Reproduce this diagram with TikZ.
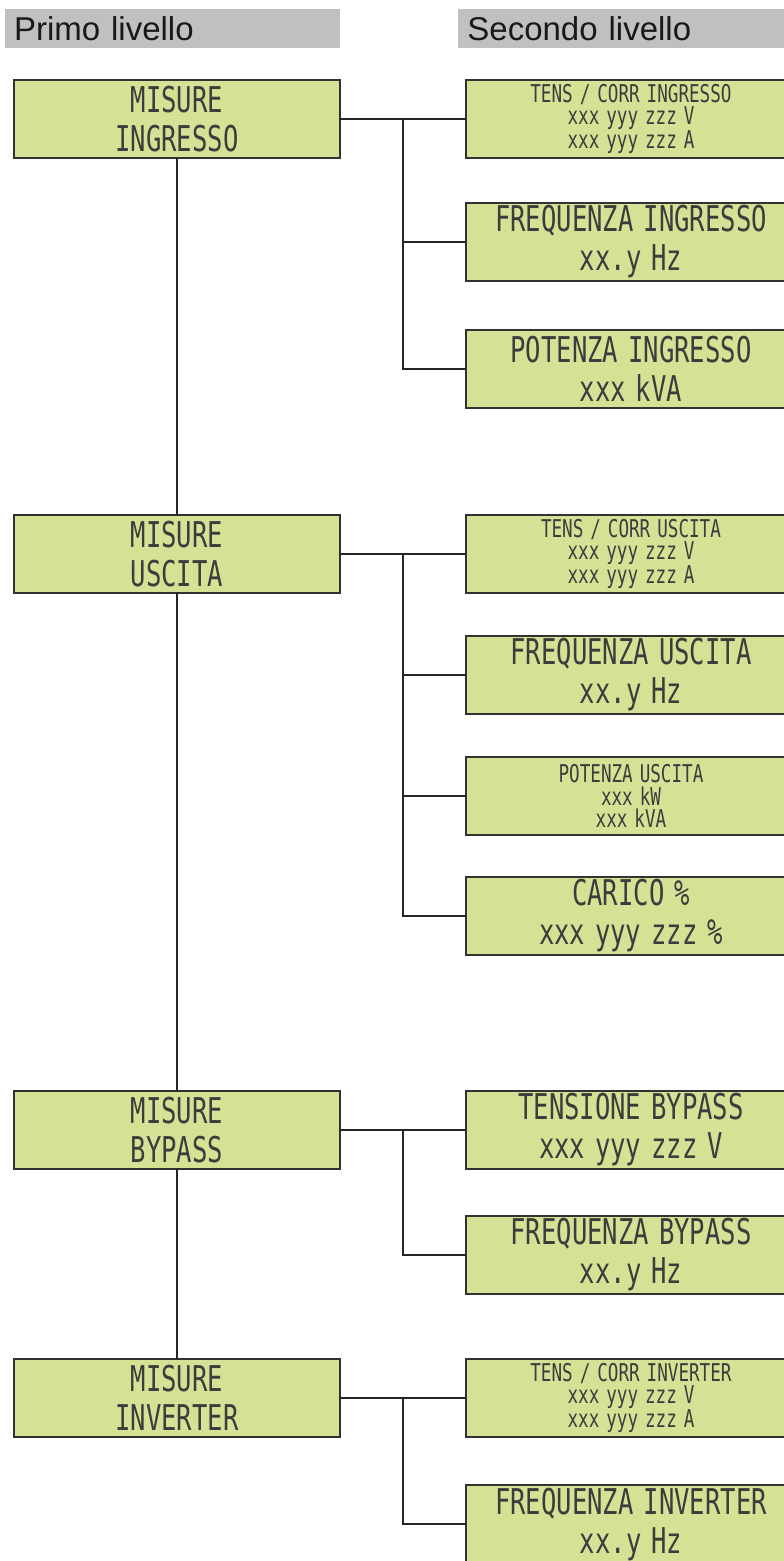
\documentclass[tikz,border=0pt]{standalone}
\usepackage{fontspec}
\usepackage{tikz}
\usetikzlibrary{positioning,calc}
\newfontfamily\lcdfont[FakeStretch=0.72,WordSpace=0.65]{DejaVu Sans Mono}
\newfontfamily\headfont{Liberation Sans}
\definecolor{lcdgreen}{RGB}{215,225,150}
\definecolor{lcdrule}{RGB}{50,50,50}
\definecolor{lcdtext}{RGB}{60,60,60}
\definecolor{headgray}{RGB}{192,192,192}
\tikzset{
  head/.style={rectangle,fill=headgray,minimum height=39pt,inner xsep=9pt,inner ysep=0pt,text width=317pt,align=left,text=black!90,font=\headfont\fontsize{33pt}{35pt}\selectfont},
  menu/.style={rectangle,draw=lcdrule,line width=1.5pt,fill=lcdgreen,minimum width=326pt,minimum height=78pt,outer sep=0pt,inner sep=2pt,align=center,text=lcdtext,font=\lcdfont\fontsize{35.5pt}{39pt}\selectfont},
  submenu/.style={menu,minimum width=330pt},
  subsmall/.style={submenu,font=\lcdfont\fontsize{24.5pt}{22.5pt}\selectfont},
  link/.style={draw=black!85,line width=1.5pt}
}

\begin{document}
\begin{tikzpicture}[x=1pt,y=1pt]
  \useasboundingbox (0,0) rectangle (784,-1561);
  \node[head] (h1) at (172.5,-28.5) {Primo livello};
  \node[head,right=118pt of h1] (h2) {Secondo livello};

  % ingresso
  \node[menu] (mi) at (177,-119) {MISURE\\INGRESSO};
  \node[subsmall,right=126pt of mi] (ti) {TENS / CORR INGRESSO\\xxx yyy zzz V\\xxx yyy zzz A};
  \node[submenu,below=45pt of ti] (fi) {FREQUENZA INGRESSO\\xx.y Hz};
  \node[submenu,below=49pt of fi] (poi) {POTENZA INGRESSO\\xxx kVA};

  % uscita
  \node[subsmall,below=107pt of poi] (tu) {TENS / CORR USCITA\\xxx yyy zzz V\\xxx yyy zzz A};
  \node[menu,left=126pt of tu] (mu) {MISURE\\USCITA};
  \node[submenu,below=43pt of tu] (fu) {FREQUENZA USCITA\\xx.y Hz};
  \node[subsmall,below=43pt of fu] (pou) {POTENZA USCITA\\xxx kW\\xxx kVA};
  \node[submenu,below=42pt of pou] (cu) {CARICO \%\\xxx yyy zzz \%};

  % bypass
  \node[submenu,below=136pt of cu] (tb) {TENSIONE BYPASS\\xxx yyy zzz V};
  \node[menu,left=126pt of tb] (mb) {MISURE\\BYPASS};
  \node[submenu,below=47pt of tb] (fb) {FREQUENZA BYPASS\\xx.y Hz};

  % inverter
  \node[subsmall,below=65pt of fb] (tv) {TENS / CORR INVERTER\\xxx yyy zzz V\\xxx yyy zzz A};
  \node[menu,left=126pt of tv] (mv) {MISURE\\INVERTER};
  \node[submenu,below=48pt of tv] (fv) {FREQUENZA INVERTER\\xx.y Hz};

  % primo livello
  \draw[link] (mi) -- (mu);
  \draw[link] (mu) -- (mb);
  \draw[link] (mb) -- (mv);

  % secondo livello
  \draw[link] (mi.east) -- (ti.west);
  \draw[link] ($(mi.east)!.5!(ti.west)$) |- (fi.west);
  \draw[link] ($(mi.east)!.5!(ti.west)$) |- (poi.west);
  \draw[link] (mu.east) -- (tu.west);
  \draw[link] ($(mu.east)!.5!(tu.west)$) |- (fu.west);
  \draw[link] ($(mu.east)!.5!(tu.west)$) |- (pou.west);
  \draw[link] ($(mu.east)!.5!(tu.west)$) |- (cu.west);
  \draw[link] (mb.east) -- (tb.west);
  \draw[link] ($(mb.east)!.5!(tb.west)$) |- (fb.west);
  \draw[link] (mv.east) -- (tv.west);
  \draw[link] ($(mv.east)!.5!(tv.west)$) |- (fv.west);
\end{tikzpicture}
\end{document}
